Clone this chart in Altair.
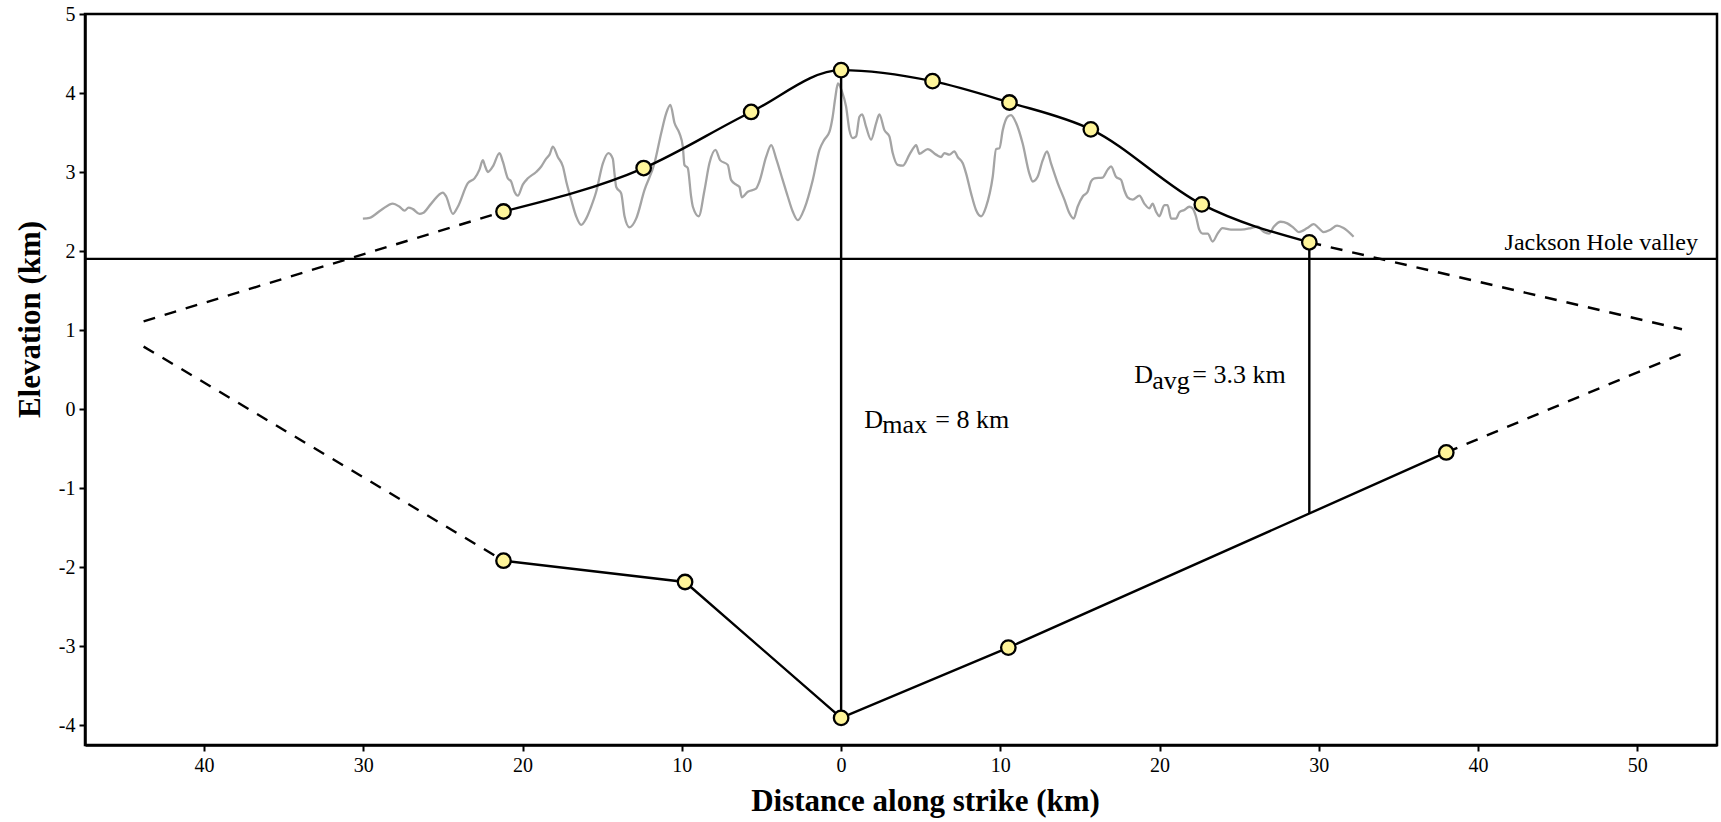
import altair as alt
import numpy as np
import pandas as pd

SERIF = "Liberation Serif"

# Topographic crest profile along strike (distance km, elevation km)
topo_x = [-30.03, -29.61, -28.88, -28.15, -27.73, -27.41, -27.16, -26.89, -26.47, -26.26,
          -25.74, -25.01, -24.80, -24.38, -24.07, -23.44, -23.02, -22.71, -22.50, -22.35,
          -22.18, -21.87, -21.45, -21.24, -20.93, -20.72, -20.51, -20.30, -19.99, -19.67,
          -19.15, -18.83, -18.52, -18.31, -18.10, -17.79, -17.47, -17.26, -16.95, -16.64,
          -16.32, -16.01, -15.70, -15.38, -14.96, -14.61, -14.34, -14.23, -14.12, -13.81,
          -13.60, -13.29, -12.87, -12.35, -11.72, -11.30, -10.99, -10.72, -10.46, -10.15,
          -9.94, -9.84, -9.63, -9.42, -9.31, -8.94, -8.58, -8.27, -7.89, -7.60,
          -7.12, -6.91, -6.59, -6.38, -6.24, -5.86, -5.34, -5.13, -4.71, -4.39,
          -4.08, -3.67, -3.35, -3.04, -2.72, -2.30, -1.78, -1.36, -1.05, -0.73,
          -0.53, -0.36, -0.20, 0.05, 0.31, 0.52, 0.73, 0.94, 1.15, 1.32,
          1.57, 1.88, 2.20, 2.40, 2.72, 3.03, 3.24, 3.55, 3.87, 4.29,
          4.60, 4.71, 4.92, 5.44, 5.96, 6.28, 6.48, 6.80, 7.11, 7.32,
          7.64, 7.85, 8.16, 8.47, 8.79, 9.10, 9.52, 9.73, 9.94, 10.15,
          10.46, 10.67, 10.99, 11.40, 11.82, 12.03, 12.34, 12.66, 12.93, 13.18,
          13.60, 14.02, 14.33, 14.60, 14.85, 15.17, 15.48, 15.69, 15.90, 16.42,
          16.74, 16.95, 17.26, 17.58, 17.78, 17.99, 18.31, 18.73, 19.04, 19.35,
          19.56, 19.77, 19.98, 20.30, 20.50, 20.72, 21.03, 21.24, 21.55, 21.86,
          22.07, 22.28, 22.49, 22.70, 23.02, 23.33, 23.64, 23.95, 24.48, 25.10,
          25.73, 26.14, 26.55, 26.87, 27.18, 27.60, 28.02, 28.43, 28.74, 29.27,
          29.68, 29.99, 30.30, 30.72, 31.14, 31.55, 32.18]
topo_y = [2.41, 2.42, 2.52, 2.60, 2.56, 2.51, 2.55, 2.53, 2.47, 2.48,
          2.60, 2.74, 2.69, 2.47, 2.56, 2.86, 2.92, 3.03, 3.15, 3.07,
          3.00, 3.07, 3.24, 3.13, 2.92, 2.88, 2.75, 2.70, 2.84, 2.92,
          3.00, 3.07, 3.17, 3.22, 3.32, 3.19, 3.07, 2.88, 2.65, 2.44,
          2.33, 2.41, 2.56, 2.75, 3.11, 3.24, 3.17, 2.98, 2.81, 2.73,
          2.44, 2.30, 2.41, 2.77, 3.11, 3.49, 3.74, 3.85, 3.62, 3.49,
          3.32, 3.09, 3.05, 2.69, 2.56, 2.44, 2.77, 3.11, 3.28, 3.15,
          3.09, 2.90, 2.84, 2.81, 2.68, 2.75, 2.79, 2.88, 3.19, 3.34,
          3.17, 2.90, 2.69, 2.50, 2.39, 2.54, 2.90, 3.28, 3.41, 3.51,
          3.70, 3.95, 4.12, 4.02, 3.83, 3.53, 3.43, 3.45, 3.70, 3.73,
          3.57, 3.41, 3.62, 3.73, 3.53, 3.45, 3.24, 3.09, 3.08, 3.22,
          3.32, 3.34, 3.23, 3.29, 3.22, 3.19, 3.24, 3.22, 3.26, 3.19,
          3.11, 2.98, 2.73, 2.52, 2.44, 2.56, 2.94, 3.29, 3.30, 3.53,
          3.70, 3.72, 3.62, 3.36, 2.98, 2.88, 2.94, 3.15, 3.26, 3.11,
          2.86, 2.65, 2.48, 2.41, 2.56, 2.69, 2.75, 2.88, 2.92, 2.93,
          3.03, 3.07, 2.94, 2.90, 2.77, 2.68, 2.65, 2.70, 2.60, 2.54,
          2.60, 2.50, 2.44, 2.58, 2.58, 2.41, 2.41, 2.49, 2.52, 2.56,
          2.54, 2.44, 2.27, 2.22, 2.22, 2.12, 2.22, 2.29, 2.27, 2.27,
          2.29, 2.31, 2.24, 2.22, 2.31, 2.37, 2.35, 2.29, 2.24, 2.29,
          2.34, 2.29, 2.24, 2.27, 2.32, 2.29, 2.18]

# Hanging-wall cutoff (upper) and footwall cutoff (lower) control points
upper_x = [-21.2, -12.4, -5.65, 0.0, 5.74, 10.57, 15.68, 22.65, 29.4]
upper_y = [2.50, 3.05, 3.76, 4.29, 4.15, 3.88, 3.54, 2.59, 2.11]
lower_x = [-21.2, -9.8, 0.0, 10.5, 38.0]
lower_y = [-1.92, -2.19, -3.91, -3.02, -0.55]

# Projected fault tips (left, right)
tip_x = [-43.8, 52.8]
tip_upper_y = [1.11, 1.01]
tip_lower_y = [0.79, 0.70]

valley_elev = 1.9
avg_x = upper_x[-1]

x_ticks = [-40, -30, -20, -10, 0, 10, 20, 30, 40, 50]
y_ticks = [-4, -3, -2, -1, 0, 1, 2, 3, 4, 5]

xscale = alt.Scale(domain=[-47.48, 55.0], nice=False, zero=False)
yscale = alt.Scale(domain=[-4.253, 5.0], nice=False, zero=False)

x_axis = alt.Axis(values=x_ticks, labelExpr="'' + abs(datum.value)", grid=False,
                  title="Distance along strike (km)", titleX=840, titleY=65,
                  titleBaseline="alphabetic")
y_axis = alt.Axis(values=y_ticks, grid=False, title="Elevation (km)",
                  labelExpr="(datum.value < 0 ? '-' : '') + abs(datum.value)",
                  titleAngle=270, titleAlign="center", titleBaseline="alphabetic",
                  titleX=-46, titleY=305)

X = lambda f="x": alt.X(f"{f}:Q", scale=xscale, axis=x_axis)
Y = lambda f="y": alt.Y(f"{f}:Q", scale=yscale, axis=y_axis)

topo = pd.DataFrame({"x": topo_x, "y": topo_y})
upper = pd.DataFrame({"x": upper_x, "y": upper_y})
lower = pd.DataFrame({"x": lower_x, "y": lower_y})

dash_rows = []
for seg, (xa, ya, xb, yb) in {
    "ul": (tip_x[0], tip_upper_y[0], upper_x[0], upper_y[0]),
    "ll": (tip_x[0], tip_lower_y[0], lower_x[0], lower_y[0]),
    "ur": (upper_x[-1], upper_y[-1], tip_x[1], tip_upper_y[1]),
    "lr": (lower_x[-1], lower_y[-1], tip_x[1], tip_lower_y[1]),
}.items():
    dash_rows += [{"seg": seg, "x": xa, "y": ya, "o": 0}, {"seg": seg, "x": xb, "y": yb, "o": 1}]
dashed = pd.DataFrame(dash_rows)

# Throw measurements: maximum at the culmination, average near the south end
throw = pd.DataFrame({
    "x": [0.0, avg_x],
    "y": [upper_y[3], upper_y[-1]],
    "y2": [lower_y[2], float(np.interp(avg_x, lower_x, lower_y))],
})

LW = 2.4

topo_line = alt.Chart(topo).mark_line(color="#a4a4a4", strokeWidth=2.3,
                                      interpolate="monotone").encode(x=X(), y=Y())

valley = alt.Chart(pd.DataFrame({"y": [valley_elev]})).mark_rule(
    color="black", strokeWidth=LW).encode(y=Y())

throw_rules = alt.Chart(throw).mark_rule(color="black", strokeWidth=LW).encode(
    x=X(), y=Y(), y2="y2:Q")

dash_lines = alt.Chart(dashed).mark_line(color="black", strokeWidth=LW,
                                         strokeDash=[12, 10]).encode(
    x=X(), y=Y(), detail="seg:N", order="o:Q")

upper_line = alt.Chart(upper).mark_line(color="black", strokeWidth=LW,
                                        interpolate="monotone").encode(x=X(), y=Y())
lower_line = alt.Chart(lower).mark_line(color="black", strokeWidth=LW).encode(x=X(), y=Y())

pts = pd.concat([upper, lower])
points = alt.Chart(pts).mark_point(shape="circle", filled=True, size=210,
                                   fill="#fff59a", stroke="black", strokeWidth=2.3,
                                   opacity=1).encode(x=X(), y=Y())

valley_label = alt.Chart(pd.DataFrame({"x": [53.8], "y": [2.01], "t": ["Jackson Hole valley"]})).mark_text(
    font=SERIF, fontSize=24, align="right", baseline="alphabetic", color="black").encode(
    x=X(), y=Y(), text="t:N")


def sub_label(x, y, sub, rest, sub_dx, rest_dx, sub_dy):
    d = pd.DataFrame({"x": [x], "y": [y], "a": ["D"], "b": [sub], "c": [rest]})
    kw = dict(font=SERIF, fontSize=26, align="left", baseline="alphabetic", color="black")
    c = alt.Chart(d)
    return (c.mark_text(**kw).encode(x=X(), y=Y(), text="a:N")
            + c.mark_text(dx=sub_dx, dy=sub_dy, **kw).encode(x=X(), y=Y(), text="b:N")
            + c.mark_text(dx=rest_dx, **kw).encode(x=X(), y=Y(), text="c:N"))


dmax_label = sub_label(1.46, -0.237, "max", "= 8 km", 18, 71, 5)
davg_label = sub_label(18.41, 0.325, "avg", "= 3.3 km", 18, 58, 6)

chart = alt.layer(
    topo_line, valley, throw_rules, dash_lines, upper_line, lower_line, points,
    valley_label, dmax_label, davg_label,
).properties(
    width=1632, height=731,
    padding={"left": 85, "top": 14, "right": 4, "bottom": 77},
    autosize=alt.AutoSizeParams(type="none"),
    background="white",
).configure_view(
    stroke="black", strokeWidth=2.5,
).configure_axis(
    labelFont=SERIF, labelFontSize=20, labelColor="black",
    titleFont=SERIF, titleFontSize=31, titleFontWeight="bold", titleColor="black",
    domainColor="black", domainWidth=2.5, tickColor="black", tickWidth=2,
    tickSize=6, labelPadding=4,
)

chart.save("out.html", embed_options={"renderer": "svg", "actions": False})
